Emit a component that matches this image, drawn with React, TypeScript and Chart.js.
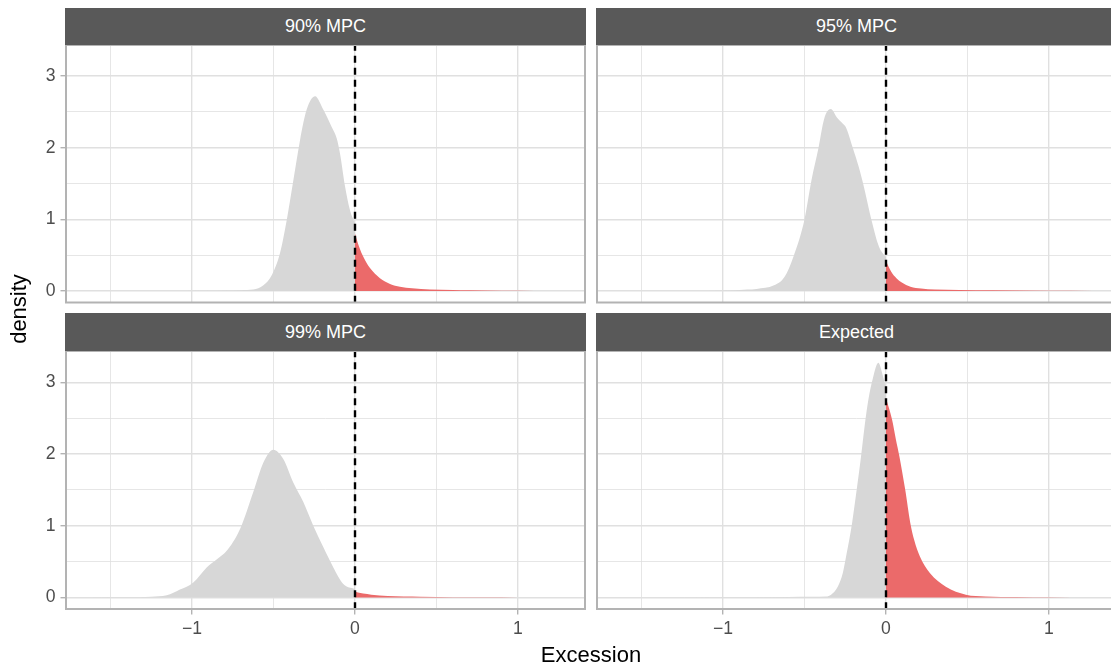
import React, { useEffect, useRef } from "react";
import { Chart, registerables } from "chart.js";

Chart.register(...registerables);

// ---------------- data ----------------
const panelTitles = ["90% MPC", "95% MPC", "99% MPC", "Expected"];

// 90% MPC
const mpc90BelowX = [-1.63, -1.2, -0.9, -0.787, -0.7, -0.624, -0.562, -0.511, -0.46, -0.419, -0.378, -0.337, -0.297, -0.245, -0.194, -0.143, -0.112, -0.092, -0.061, -0.031, 0];
const mpc90BelowY = [0, 0.001, 0.004, 0.008, 0.012, 0.02, 0.08, 0.22, 0.53, 0.99, 1.55, 2.11, 2.53, 2.72, 2.53, 2.29, 2.13, 1.92, 1.46, 1.13, 0.94];
const mpc90AboveX = [0, 0.025, 0.051, 0.092, 0.153, 0.215, 0.276, 0.35, 0.46, 0.6, 0.7, 0.9, 1.1, 1.27];
const mpc90AboveY = [0.8, 0.62, 0.48, 0.32, 0.18, 0.1, 0.06, 0.04, 0.02, 0.015, 0.01, 0.003, 0.001, 0];

// 95% MPC
const mpc95BelowX = [-1.63, -1.1, -0.944, -0.85, -0.794, -0.687, -0.622, -0.568, -0.5, -0.457, -0.414, -0.38, -0.339, -0.3, -0.266, -0.247, -0.204, -0.167, -0.135, -0.09, -0.043, 0];
const mpc95BelowY = [0, 0.002, 0.008, 0.02, 0.03, 0.08, 0.2, 0.48, 1.0, 1.55, 2.0, 2.4, 2.54, 2.42, 2.34, 2.29, 2.0, 1.73, 1.45, 1.0, 0.62, 0.47];
const mpc95AboveX = [0, 0.032, 0.064, 0.097, 0.15, 0.215, 0.3, 0.45, 0.65, 0.99, 1.27];
const mpc95AboveY = [0.42, 0.27, 0.18, 0.12, 0.06, 0.035, 0.02, 0.015, 0.01, 0.003, 0];

// 99% MPC
const mpc99BelowX = [-1.63, -1.4, -1.25, -1.155, -1.074, -0.992, -0.91, -0.849, -0.787, -0.706, -0.624, -0.562, -0.501, -0.44, -0.378, -0.317, -0.256, -0.194, -0.133, -0.072, 0];
const mpc99BelowY = [0, 0.002, 0.01, 0.03, 0.11, 0.21, 0.42, 0.53, 0.65, 0.95, 1.47, 1.88, 2.06, 1.93, 1.6, 1.33, 1.0, 0.7, 0.42, 0.19, 0.12];
const mpc99AboveX = [0, 0.05, 0.1, 0.2, 0.4, 0.6, 0.8, 1.0, 1.27];
const mpc99AboveY = [0.08, 0.055, 0.04, 0.02, 0.01, 0.005, 0.002, 0.001, 0];

// Expected
const expBelowX = [-1.63, -1.0, -0.6, -0.45, -0.367, -0.337, -0.296, -0.265, -0.245, -0.208, -0.18, -0.153, -0.129, -0.108, -0.082, -0.047, -0.024, 0];
const expBelowY = [0, 0.003, 0.008, 0.01, 0.014, 0.04, 0.15, 0.34, 0.57, 1.04, 1.5, 1.97, 2.43, 2.76, 3.04, 3.27, 3.13, 2.92];
const expAboveX = [0, 0.037, 0.061, 0.082, 0.118, 0.149, 0.173, 0.208, 0.269, 0.367, 0.49, 0.61, 0.8, 1.0, 1.27];
const expAboveY = [2.78, 2.48, 2.2, 1.97, 1.5, 1.04, 0.8, 0.57, 0.34, 0.15, 0.04, 0.015, 0.008, 0.004, 0];

const xMajorTicks = [-1, 0, 1];
const yMajorTicks = [0, 1, 2, 3];
const thresholdX = 0;

const xAxisTitle = "Excession";
const yAxisTitle = "density";

// ---------------- styling ----------------
const FONT = "'Liberation Sans', Arial, Helvetica, sans-serif";
const GREY_FILL = "#d7d7d7";
const RED_FILL = "#eb6a6a";
const GRID = "#e0e0e0";
const BORDER = "#b3b3b3";
const TICK_TEXT = "#4d4d4d";
const STRIP_BG = "#595959";

const X_MIN = -1.773;
const X_MAX = 1.411;
const Y_MIN = -0.16;
const Y_MAX = 3.435;

type PanelData = {
  title: string;
  belowX: number[];
  belowY: number[];
  aboveX: number[];
  aboveY: number[];
};

const panels: PanelData[] = [
  { title: panelTitles[0], belowX: mpc90BelowX, belowY: mpc90BelowY, aboveX: mpc90AboveX, aboveY: mpc90AboveY },
  { title: panelTitles[1], belowX: mpc95BelowX, belowY: mpc95BelowY, aboveX: mpc95AboveX, aboveY: mpc95AboveY },
  { title: panelTitles[2], belowX: mpc99BelowX, belowY: mpc99BelowY, aboveX: mpc99AboveX, aboveY: mpc99AboveY },
  { title: panelTitles[3], belowX: expBelowX, belowY: expBelowY, aboveX: expAboveX, aboveY: expAboveY },
];

// layout of each panel's canvas (page pixels)
const layouts = [
  { left: 0, top: 45, width: 588, height: 262, showY: true, showX: false, stripTop: 8, stripLeft: 65 },
  { left: 590, top: 45, width: 530, height: 262, showY: false, showX: false, stripTop: 8, stripLeft: 596 },
  { left: 0, top: 351, width: 588, height: 318, showY: true, showX: true, stripTop: 313, stripLeft: 65 },
  { left: 590, top: 351, width: 530, height: 318, showY: false, showX: true, stripTop: 313, stripLeft: 596 },
];

const isMajor = (v: number, majors: number[]) => majors.some((m) => Math.abs(m - v) < 1e-9);
const fmtNum = (v: number) => (v < 0 ? "\u2212" + Math.abs(v) : String(v));

const panelBorder = {
  id: "panelBorder",
  afterDatasetsDraw(chart: any) {
    const { ctx, chartArea: a } = chart;
    ctx.save();
    ctx.strokeStyle = BORDER;
    ctx.lineWidth = 2;
    ctx.strokeRect(a.left, a.top, a.right - a.left, a.bottom - a.top);
    ctx.restore();
  },
};

function makeConfig(p: PanelData, showY: boolean, showX: boolean): any {
  const pts = (xs: number[], ys: number[]) => xs.map((x, i) => ({ x, y: ys[i] }));
  return {
    type: "line",
    data: {
      datasets: [
        {
          data: [
            { x: thresholdX, y: -1 },
            { x: thresholdX, y: 5 },
          ],
          borderColor: "#000000",
          borderWidth: 2.4,
          borderDash: [7, 5],
          pointRadius: 0,
          fill: false,
        },
        {
          data: pts(p.aboveX, p.aboveY),
          borderColor: "rgba(0,0,0,0)",
          borderWidth: 0,
          backgroundColor: RED_FILL,
          fill: "origin",
          pointRadius: 0,
          cubicInterpolationMode: "monotone",
        },
        {
          data: pts(p.belowX, p.belowY),
          borderColor: "rgba(0,0,0,0)",
          borderWidth: 0,
          backgroundColor: GREY_FILL,
          fill: "origin",
          pointRadius: 0,
          cubicInterpolationMode: "monotone",
        },
      ],
    },
    options: {
      responsive: false,
      animation: false,
      events: [],
      layout: { padding: { left: showY ? 0 : 7, right: showY ? 3 : 4, top: 0, bottom: 0 } },
      plugins: { legend: { display: false }, tooltip: { enabled: false }, title: { display: false } },
      scales: {
        x: {
          type: "linear",
          min: X_MIN,
          max: X_MAX,
          border: { display: false },
          grid: {
            color: GRID,
            lineWidth: (c: any) => (c.tick && isMajor(c.tick.value, xMajorTicks) ? 1.4 : 0.8),
            drawTicks: showX,
            tickLength: 5.5,
            tickWidth: 1.4,
            tickColor: (c: any) => (c.tick && isMajor(c.tick.value, xMajorTicks) ? BORDER : "rgba(0,0,0,0)"),
          },
          ticks: {
            display: showX,
            stepSize: 0.5,
            includeBounds: false,
            autoSkip: false,
            maxRotation: 0,
            padding: 4,
            color: TICK_TEXT,
            font: { family: FONT, size: 17.6 },
            callback: (v: any) => (isMajor(Number(v), xMajorTicks) ? fmtNum(Number(v)) : ""),
          },
          afterFit: (s: any) => {
            s.height = showX ? 60 : 4.5;
            s.paddingLeft = 0;
            s.paddingRight = 0;
          },
        },
        y: {
          type: "linear",
          min: Y_MIN,
          max: Y_MAX,
          border: { display: false },
          grid: {
            color: GRID,
            lineWidth: (c: any) => (c.tick && isMajor(c.tick.value, yMajorTicks) ? 1.4 : 0.8),
            drawTicks: showY,
            tickLength: 5.5,
            tickWidth: 1.4,
            tickColor: (c: any) => (c.tick && isMajor(c.tick.value, yMajorTicks) ? BORDER : "rgba(0,0,0,0)"),
          },
          ticks: {
            display: showY,
            stepSize: 0.5,
            includeBounds: false,
            autoSkip: false,
            padding: 5,
            color: TICK_TEXT,
            font: { family: FONT, size: 17.6 },
            callback: (v: any) => (isMajor(Number(v), yMajorTicks) ? fmtNum(Number(v)) : ""),
          },
          afterFit: (s: any) => {
            s.width = showY ? 66 : 0;
            s.paddingTop = 0;
            s.paddingBottom = 0;
          },
        },
      },
    },
    plugins: [panelBorder],
  };
}

export default function App() {
  const refs = [
    useRef<HTMLCanvasElement>(null),
    useRef<HTMLCanvasElement>(null),
    useRef<HTMLCanvasElement>(null),
    useRef<HTMLCanvasElement>(null),
  ];

  useEffect(() => {
    const charts: Chart[] = [];
    panels.forEach((p, i) => {
      const c = refs[i].current;
      if (!c) return;
      const l = layouts[i];
      charts.push(new Chart(c, makeConfig(p, l.showY, l.showX)));
    });
    return () => charts.forEach((ch) => ch.destroy());
  }, []);

  return (
    <div
      style={{
        position: "fixed",
        left: 0,
        top: 0,
        width: 1111,
        height: 669,
        overflow: "hidden",
        background: "#ffffff",
        fontFamily: FONT,
      }}
    >
      {layouts.map((l, i) => (
        <React.Fragment key={i}>
          <div
            style={{
              position: "absolute",
              left: l.stripLeft,
              top: l.stripTop,
              width: 521,
              height: i < 2 ? 37 : 38,
              background: STRIP_BG,
              color: "#ffffff",
              fontSize: 18,
              display: "flex",
              alignItems: "center",
              justifyContent: "center",
              whiteSpace: "nowrap",
            }}
          >
            {panels[i].title}
          </div>
          <canvas
            ref={refs[i]}
            width={l.width}
            height={l.height}
            style={{ position: "absolute", left: l.left, top: l.top, width: l.width, height: l.height }}
          />
        </React.Fragment>
      ))}
      <div
        style={{
          position: "absolute",
          left: 391,
          top: 642,
          width: 400,
          height: 26,
          lineHeight: "26px",
          textAlign: "center",
          fontSize: 22,
          color: "#000000",
        }}
      >
        {xAxisTitle}
      </div>
      <div
        style={{
          position: "absolute",
          left: 19 - 100,
          top: 308.5 - 13,
          width: 200,
          height: 26,
          lineHeight: "26px",
          textAlign: "center",
          fontSize: 22,
          color: "#000000",
          transform: "rotate(-90deg)",
        }}
      >
        {yAxisTitle}
      </div>
    </div>
  );
}
